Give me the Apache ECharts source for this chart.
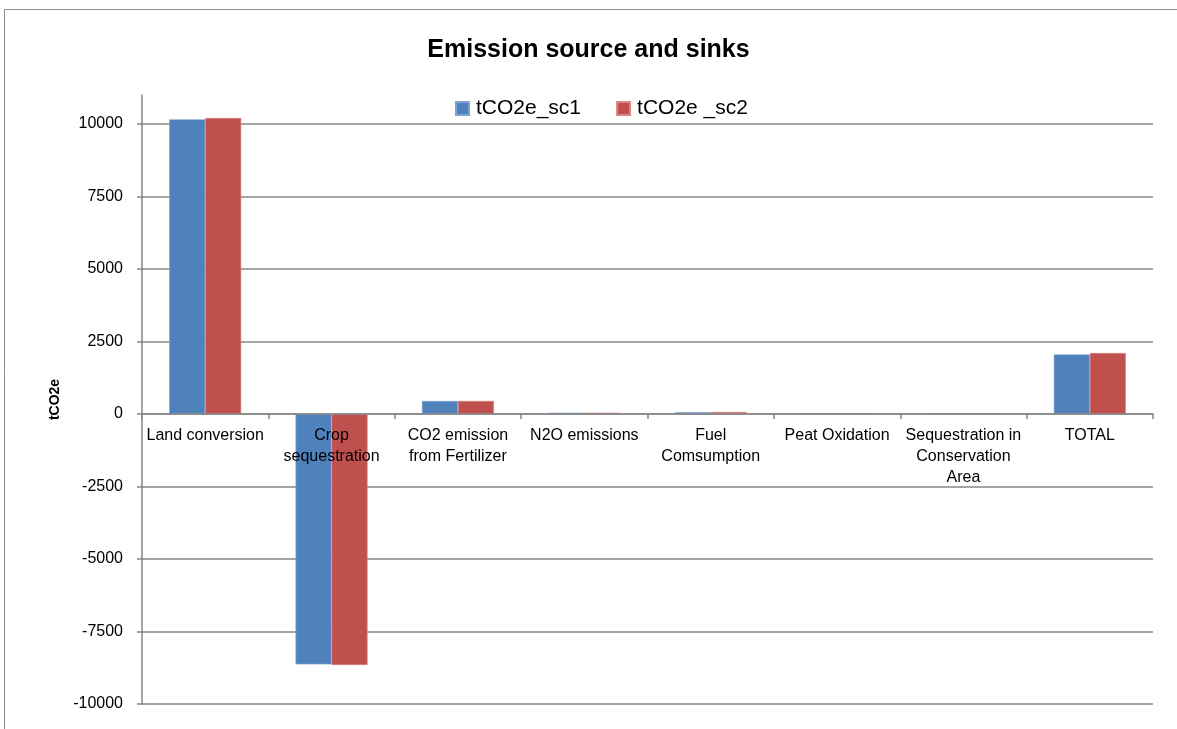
<!DOCTYPE html>
<html>
<head>
<meta charset="utf-8">
<script src="https://cdn.jsdelivr.net/npm/echarts@6/dist/echarts.min.js"></script>
<style>
  html, body { margin: 0; padding: 0; background: #ffffff; }
  #chart { width: 1177px; height: 729px; }
</style>
</head>
<body>
<div id="chart"></div>
<script>
// Emission sources and sinks, two scenarios (tCO2e)
const categories = [
  'Land conversion',
  'Crop\nsequestration',
  'CO2 emission\nfrom Fertilizer',
  'N2O emissions',
  'Fuel\nComsumption',
  'Peat Oxidation',
  'Sequestration in\nConservation\nArea',
  'TOTAL'
];
const sc1 = [10160, -8635, 448, 42, 62, 0, 0, 2055];
const sc2 = [10205, -8655, 450, 45, 68, 0, 0, 2103];
const yTicks = [-10000, -7500, -5000, -2500, 0, 2500, 5000, 7500, 10000];
const Y_MIN = -10000;
const Y_MAX = 11000;

const FONT = 'Liberation Sans';
const W = 1177, H = 729;
const GRID = { left: 142, right: 24, top: 95, bottom: 25 };

// category axis sits on the zero line: shift it up from the bottom of the grid
const plotH = H - GRID.top - GRID.bottom;
const zeroOffset = -((0 - Y_MIN) / (Y_MAX - Y_MIN)) * plotH;

const chart = echarts.init(document.getElementById('chart'), null, { renderer: 'canvas' });

chart.setOption({
  backgroundColor: '#ffffff',
  animation: false,
  textStyle: { fontFamily: FONT, color: '#000000' },
  title: {
    text: 'Emission source and sinks',
    left: 'center',
    top: 33,
    textStyle: { fontFamily: FONT, fontSize: 25, fontWeight: 'bold', color: '#000000' }
  },
  legend: {
    top: 93,
    left: 450,
    itemWidth: 13,
    itemHeight: 13,
    itemGap: 35,
    icon: 'rect',
    textStyle: { fontFamily: FONT, fontSize: 21, color: '#000000', padding: [0, 0, 0, 2] },
    data: ['tCO2e_sc1', 'tCO2e _sc2']
  },
  graphic: [{
    type: 'rect',
    shape: { x: 4.5, y: 9.5, width: 1200, height: 800 },
    style: { fill: 'none', stroke: '#8c8c8c', lineWidth: 1 },
    silent: true,
    z: -1
  }],
  grid: {
    left: GRID.left, right: GRID.right, top: GRID.top, bottom: GRID.bottom,
    containLabel: false,
    outerBoundsMode: 'none'
  },
  xAxis: {
    type: 'category',
    data: categories,
    position: 'bottom',
    offset: zeroOffset,
    z: 10,
    axisLine: { onZero: false, lineStyle: { color: '#868686', width: 1.5 } },
    axisTick: { show: true, length: 5, inside: false, lineStyle: { color: '#868686', width: 1.5 } },
    axisLabel: {
      interval: 0,
      margin: 11,
      fontFamily: FONT,
      fontSize: 16,
      lineHeight: 21,
      color: '#000000',
      align: 'center',
      verticalAlign: 'top',
      hideOverlap: false
    },
    splitLine: { show: false }
  },
  yAxis: {
    type: 'value',
    min: Y_MIN,
    max: Y_MAX,
    interval: 2500,
    name: 'tCO2e',
    nameLocation: 'middle',
    nameGap: 80,
    nameRotate: 90,
    nameTextStyle: { fontFamily: FONT, fontSize: 14, fontWeight: 'bold', color: '#000000' },
    axisLine: { show: true, onZero: false, lineStyle: { color: '#868686', width: 1.5 } },
    axisTick: { show: true, length: 5, customValues: yTicks, lineStyle: { color: '#868686', width: 1.5 } },
    axisLabel: {
      customValues: yTicks,
      margin: 19,
      fontFamily: FONT,
      fontSize: 16,
      color: '#000000',
      formatter: (v) => String(v)
    },
    splitLine: {
      show: true,
      showMinLine: true,
      showMaxLine: true,
      lineStyle: { color: '#868686', width: 1.5 }
    }
  },
  series: [
    {
      name: 'tCO2e_sc1',
      type: 'bar',
      data: sc1,
      barGap: '0%',
      barCategoryGap: '43%',
      itemStyle: { color: '#4F81BD', borderColor: '#7fa3d3', borderWidth: 0.6 }
    },
    {
      name: 'tCO2e _sc2',
      type: 'bar',
      data: sc2,
      itemStyle: { color: '#C0504D', borderColor: '#d98785', borderWidth: 0.6 }
    }
  ]
});
</script>
</body>
</html>
